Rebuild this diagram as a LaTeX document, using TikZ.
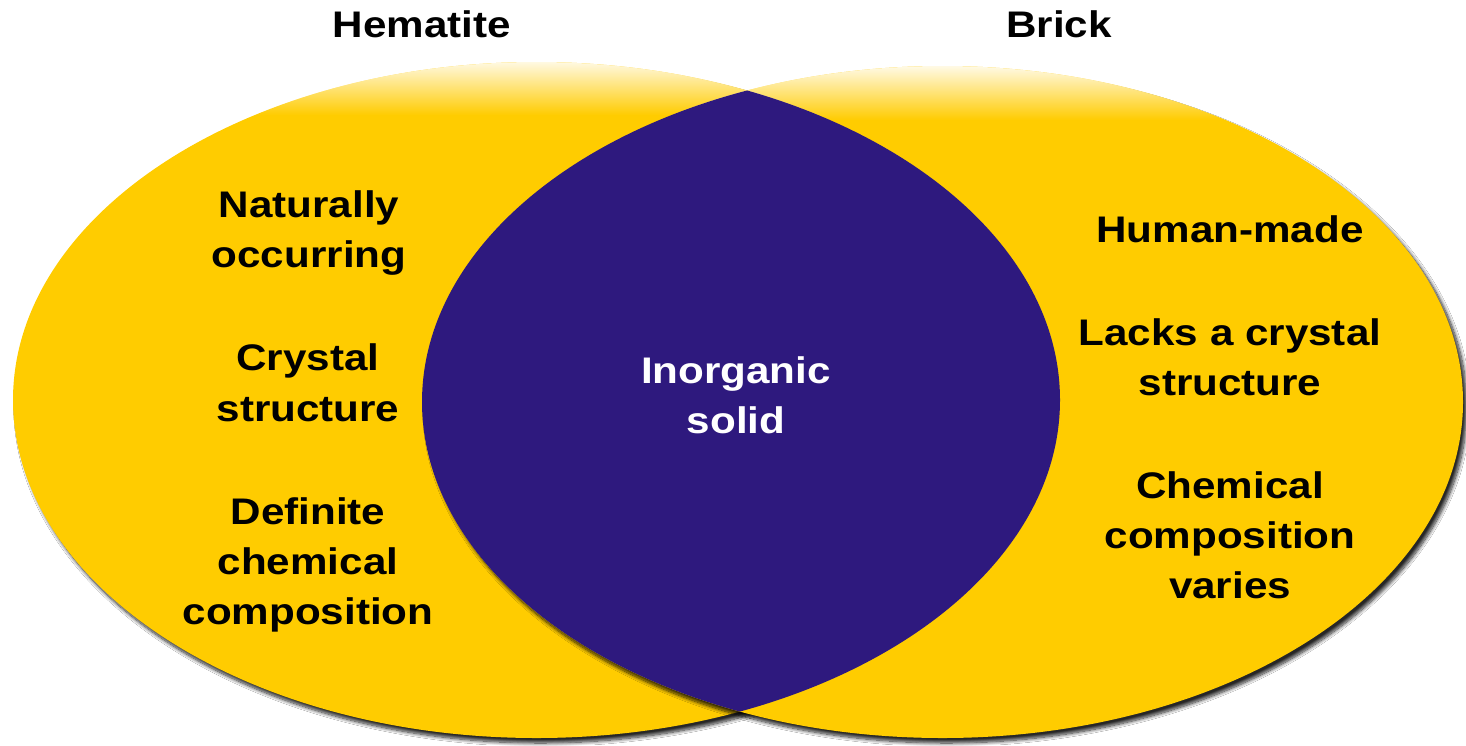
\documentclass[tikz,border=0pt]{standalone}
\usepackage{fontspec}
\setmainfont{Liberation Sans}[FakeStretch=1.14]
\usetikzlibrary{shadows.blur,fadings}
\definecolor{vyellow}{RGB}{255,204,0}
\definecolor{vblue}{RGB}{46,25,126}
\tikzset{
  lbl/.style={anchor=base, inner sep=0pt, font=\fontsize{37}{44}\selectfont\bfseries, text=black},
  lblw/.style={lbl, text=white},
  setshape/.style={fill=vyellow, blur shadow={shadow xshift=4pt, shadow yshift=-5pt, shadow blur steps=10, shadow opacity=85, shadow blur radius=3.5pt}},
}
\begin{document}
\begin{tikzpicture}[x=1pt,y=-1pt]
\fill[white] (0,0) rectangle (1466,745);
\useasboundingbox (0,0) rectangle (1466,745);
% sets
\path[setshape] (536.5,400) ellipse [x radius=523.5, y radius=338];
\path[setshape] (942.5,402) ellipse [x radius=520.5, y radius=336];
% top highlights
\begin{scope}
  \clip (536.5,400) ellipse [x radius=523.5, y radius=338];
  \fill[white, path fading=south] (0,55) rectangle (1466,115);
\end{scope}
\begin{scope}
  \clip (942.5,402) ellipse [x radius=520.5, y radius=336];
  \fill[white, path fading=south] (0,60) rectangle (1466,120);
\end{scope}
% intersection
\begin{scope}
  \clip (536.5,400) ellipse [x radius=523.5, y radius=338];
  \fill[vblue] (942.5,402) ellipse [x radius=520.5, y radius=336];
\end{scope}
% titles
\node[lbl] (hem) at (422,37) {Hematite};
\node[lbl] (bri) at (1059,37) {Brick};
% left set
\node[lbl] (l1) at (309,217) {Naturally};
\node[lbl] (l2) at (309,267) {occurring};
\node[lbl] (l3) at (308,370) {Crystal};
\node[lbl] (l4) at (308,421) {structure};
\node[lbl] (l5) at (308,524) {Definite};
\node[lbl] (l6) at (308,574) {chemical};
\node[lbl] (l7) at (308,624) {composition};
% right set
\node[lbl] (r1) at (1230,242) {Human-made};
\node[lbl] (r2) at (1230,345) {Lacks a crystal};
\node[lbl] (r3) at (1230,395) {structure};
\node[lbl] (r4) at (1230,498) {Chemical};
\node[lbl] (r5) at (1230,548) {composition};
\node[lbl] (r6) at (1230,598) {varies};
% intersection
\node[lblw] (c1) at (736,383) {Inorganic};
\node[lblw] (c2) at (736,433) {solid};
\end{tikzpicture}
\end{document}
